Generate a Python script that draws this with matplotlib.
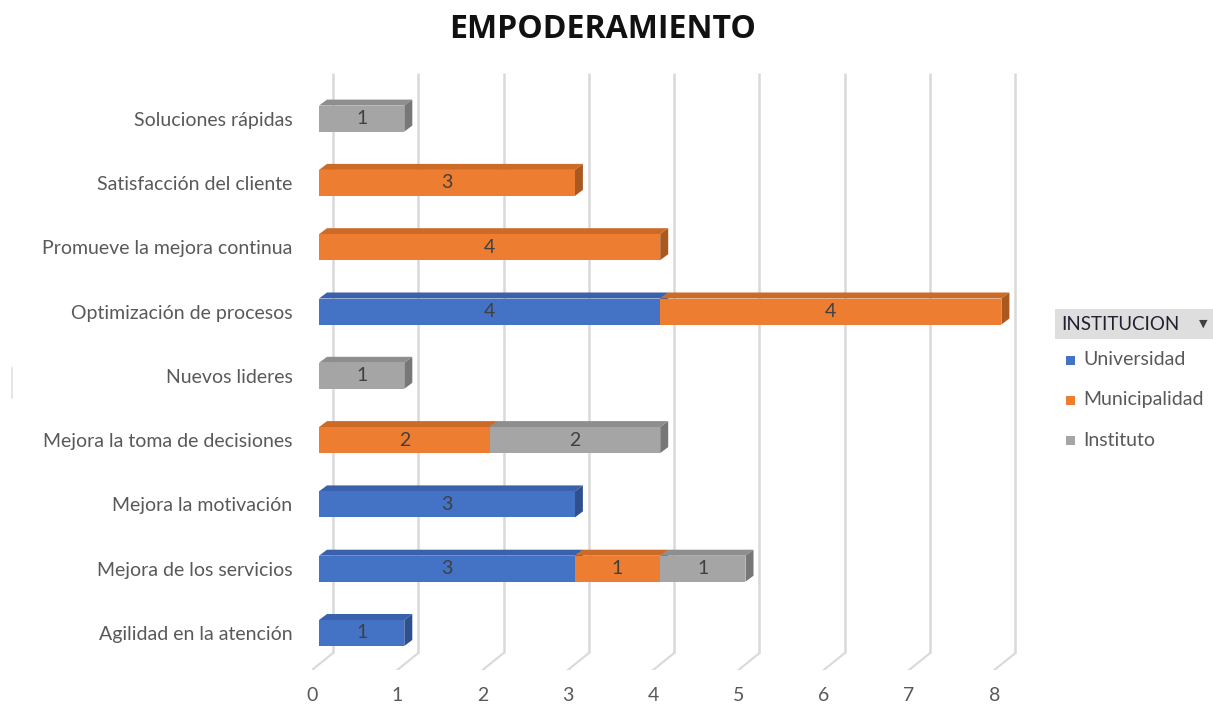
import matplotlib
matplotlib.use("Agg")
import matplotlib.pyplot as plt
from matplotlib.patches import Polygon, Rectangle
import numpy as np

# ---- data ----
categories = [
    "Agilidad en la atención",
    "Mejora de los servicios",
    "Mejora la motivación",
    "Mejora la toma de decisiones",
    "Nuevos lideres",
    "Optimización de procesos",
    "Promueve la mejora continua",
    "Satisfacción del cliente",
    "Soluciones rápidas",
]
universidad = [1, 3, 3, 0, 0, 4, 0, 0, 0]
municipalidad = [0, 1, 0, 2, 0, 4, 4, 3, 0]
instituto = [0, 1, 0, 2, 1, 0, 0, 0, 1]
series_names = ["Universidad", "Municipalidad", "Instituto"]
x_ticks = [0, 1, 2, 3, 4, 5, 6, 7, 8]

# ---- style ----
front_cols = ["#4472C4", "#ED7D31", "#A5A5A5"]
top_cols = ["#3A62AC", "#CC6A26", "#8E8E8E"]
side_cols = ["#2F5090", "#A9581F", "#777777"]
text_col = "#595959"
grid_col = "#D9D9D9"
FONT = "Lato"
FS = 14

W, H, DPI = 1213, 727, 100
fig = plt.figure(figsize=(W / DPI, H / DPI), dpi=DPI)

# axes box in pixels: x from 312 to 1030, y from 670 (floor) to 73 (top)
px_l, px_r, px_b, px_t = 312, 1030, 670, 73
ax = fig.add_axes([px_l / W, 1 - px_b / H, (px_r - px_l) / W, (px_b - px_t) / H])
ux = 85.3   # pixels per x unit
uy = 64.3   # pixels per category step
xmax = (px_r - px_l) / ux
ymin = -(670 - 633) / uy
ymax = ymin + (px_b - px_t) / uy
ax.set_xlim(0, xmax)
ax.set_ylim(ymin, ymax)
for s in ax.spines.values():
    s.set_visible(False)

# 3D depth of the back wall and of the bars (data units)
wall_dx, wall_dy = 21 / ux, 17 / uy
bar_dx, bar_dy = 8 / ux, 6 / uy
bar_sx = 7 / ux          # bars stand a third of the way into the floor
bar_h = 26 / uy

# back wall gridlines + floor diagonals
for t in x_ticks:
    ax.plot([t + wall_dx, t + wall_dx], [ymin + wall_dy, ymax], color=grid_col,
            lw=1.8, zorder=1, solid_capstyle="butt")
    ax.plot([t, t + wall_dx], [ymin, ymin + wall_dy], color=grid_col, lw=1.5,
            zorder=1)

y = np.arange(len(categories))
series = [universidad, municipalidad, instituto]
left = np.zeros(len(categories))
z = 3
for si, vals in enumerate(series):
    vals = np.array(vals, dtype=float)
    ax.barh(y, vals, left=left + bar_sx, height=bar_h,
            color=front_cols[si], edgecolor="none", zorder=z + 2)
    for yi, (v, l) in enumerate(zip(vals, left)):
        if v <= 0:
            continue
        x0 = l + bar_sx
        x1 = x0 + v
        yb = yi - bar_h / 2
        yt = yi + bar_h / 2
        top = Polygon([[x0, yt], [x1, yt], [x1 + bar_dx, yt + bar_dy],
                       [x0 + bar_dx, yt + bar_dy]], closed=True,
                      facecolor=top_cols[si], edgecolor="none", zorder=z + 1)
        side = Polygon([[x1, yb], [x1 + bar_dx, yb + bar_dy],
                        [x1 + bar_dx, yt + bar_dy], [x1, yt]], closed=True,
                       facecolor=side_cols[si], edgecolor="none", zorder=z + 1)
        ax.add_patch(top)
        ax.add_patch(side)
        ax.text(x0 + v / 2, yi, f"{int(v)}", ha="center", va="center",
                fontsize=FS, color="#404040", family=FONT, zorder=z + 6)
    left = left + vals
    z += 3

# axis labels
ax.set_xticks(x_ticks)
ax.set_xticklabels([str(t) for t in x_ticks], fontsize=FS, color=text_col,
                   family=FONT)
ax.tick_params(axis="x", length=0, pad=12)
ax.set_yticks(y)
ax.set_yticklabels(categories, fontsize=FS, color=text_col, family=FONT,
                   va="center_baseline")
ax.tick_params(axis="y", length=0, pad=14)

# title
fig.text(603 / W, 1 - 30 / H, "EMPODERAMIENTO", ha="center", va="center",
         fontsize=23, fontweight="bold", color="#111111", family="Open Sans")

# legend with field button
fig.patches.append(Rectangle((1055 / W, 1 - 339 / H), 158 / W, 30 / H,
                             transform=fig.transFigure, facecolor="#DEDEDE",
                             edgecolor="none"))
fig.text(1061 / W, 1 - 325 / H, "INSTITUCION", ha="left", va="center",
         fontsize=13.5, color="#202030", family=FONT)
fig.text(1203 / W, 1 - 324 / H, "\u25BC", ha="center", va="center",
         fontsize=8, color="#404040", family="DejaVu Sans")
for i, name in enumerate(series_names):
    yc = 360 + 40 * i
    fig.patches.append(Rectangle((1066 / W, 1 - (yc + 5) / H), 9 / W, 9 / H,
                                 transform=fig.transFigure,
                                 facecolor=front_cols[i], edgecolor="none"))
    fig.text(1083 / W, 1 - yc / H, name, ha="left", va="center",
             fontsize=FS, color=text_col, family=FONT)

# thin border mark at the left edge
fig.add_artist(plt.Line2D([12 / W, 12 / W], [1 - 368 / H, 1 - 398 / H],
                          transform=fig.transFigure, color="#E0E0E0", lw=1.2))

fig.savefig("out.png", dpi=DPI, facecolor="white")
